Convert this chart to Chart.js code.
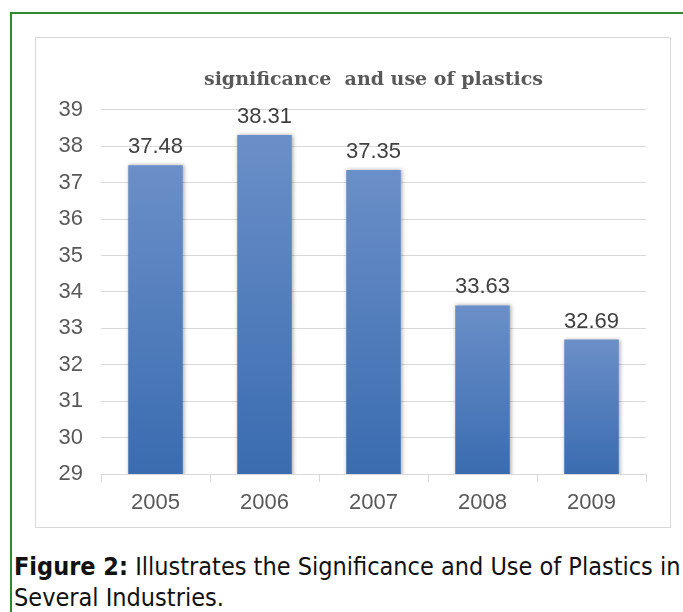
<!DOCTYPE html>
<html>
<head>
<meta charset="utf-8">
<script src="https://cdn.jsdelivr.net/npm/chart.js@4.4.0/dist/chart.umd.min.js"></script>
<style>
  html, body { margin: 0; padding: 0; background: #fff; width: 683px; height: 612px; overflow: hidden; }
  #frame { position: absolute; left: 10px; top: 12px; width: 700px; height: 640px; border: 2px solid #2f8a2f; }
  #box { position: absolute; left: 35px; top: 37px; width: 634px; height: 489px; border: 1px solid #d9d9d9; }
  #chart { display: block; }
  #caption { position: absolute; left: 14px; top: 551px; width: 700px; font-family: "Liberation Sans Narrow", "DejaVu Sans Condensed", sans-serif; font-size: 25px; line-height: 31px; color: #111; white-space: nowrap; }
</style>
</head>
<body>
<div id="frame"></div>
<div id="box"><canvas id="chart" width="634" height="489"></canvas></div>
<div id="caption"><b>Figure 2:</b> Illustrates the Significance and Use of Plastics in<br>Several Industries.</div>
<script>
const years = ['2005', '2006', '2007', '2008', '2009'];
const values = [37.48, 38.31, 37.35, 33.63, 32.69];
const yTicks = [29, 30, 31, 32, 33, 34, 35, 36, 37, 38, 39];

const tickFont = { family: 'Liberation Sans', size: 22 };

function barGradient(context) {
    const chart = context.chart;
    const area = chart.chartArea;
    if (!area) return '#4f7fc0';
    const top = chart.scales.y.getPixelForValue(context.raw);
    const g = chart.ctx.createLinearGradient(0, top, 0, area.bottom);
    g.addColorStop(0, '#6b8fc8');
    g.addColorStop(1, '#3a6cb0');
    return g;
}

const shadowPlugin = {
    id: 'barShadow',
    beforeDatasetDraw(chart) {
        const ctx = chart.ctx;
        ctx.save();
        ctx.shadowColor = 'rgba(0,0,0,0.35)';
        ctx.shadowBlur = 4;
        ctx.shadowOffsetX = 1;
        ctx.shadowOffsetY = 0;
    },
    afterDatasetDraw(chart) {
        chart.ctx.restore();
    }
};

const valueLabels = {
    id: 'valueLabels',
    afterDatasetsDraw(chart) {
        const ctx = chart.ctx;
        const meta = chart.getDatasetMeta(0);
        ctx.save();
        ctx.font = '22px "Liberation Sans"';
        ctx.fillStyle = '#404040';
        ctx.textAlign = 'center';
        ctx.textBaseline = 'bottom';
        meta.data.forEach((bar, i) => {
            ctx.fillText(values[i].toFixed(2), bar.x, bar.y - 7);
        });
        ctx.restore();
    }
};

new Chart(document.getElementById('chart'), {
    type: 'bar',
    data: {
        labels: years,
        datasets: [{
            data: values,
            backgroundColor: barGradient,
            categoryPercentage: 1,
            barPercentage: 0.5
        }]
    },
    options: {
        responsive: false,
        animation: false,
        layout: { padding: { left: 0, right: 24, bottom: 0 } },
        plugins: {
            legend: { display: false },
            tooltip: { enabled: false },
            title: {
                display: true,
                text: 'significance  and use of plastics',
                fullSize: false,
                color: '#595959',
                font: { family: 'DejaVu Serif', size: 19, weight: 'bold' },
                padding: { top: 31, bottom: 18 }
            }
        },
        scales: {
            x: {
                grid: { display: true, drawOnChartArea: false, tickLength: 8, color: '#d9d9d9', offset: true },
                border: { color: '#d9d9d9' },
                ticks: { color: '#595959', font: tickFont, padding: 8 },
                afterFit(scale) { scale.height = 53; }
            },
            y: {
                min: 29,
                max: 39,
                grid: { color: '#d9d9d9', tickLength: 0 },
                border: { display: false },
                afterBuildTicks(scale) { scale.ticks = yTicks.map(v => ({ value: v })); },
                ticks: { color: '#595959', font: tickFont, padding: 18 },
                afterFit(scale) { scale.width = 65; }
            }
        }
    },
    plugins: [shadowPlugin, valueLabels]
});
</script>
</body>
</html>
